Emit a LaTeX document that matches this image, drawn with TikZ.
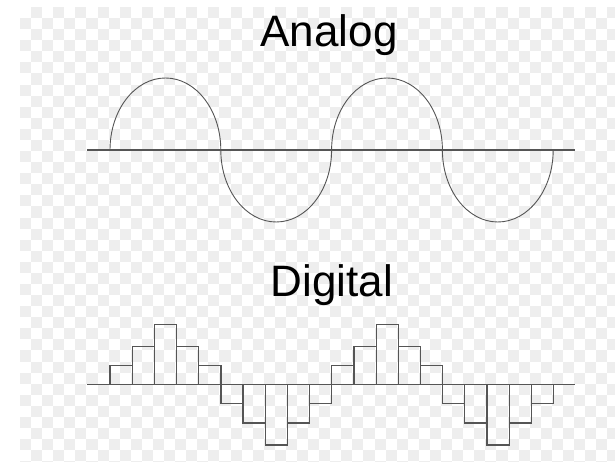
\documentclass[tikz,border=0pt]{standalone}
\usepackage{fontspec}
\setmainfont{Liberation Sans}
\usetikzlibrary{positioning}
\definecolor{linegray}{HTML}{555555}
\definecolor{checkgray}{HTML}{EEEEEE}

\begin{document}
\begin{tikzpicture}[x=1pt,y=1pt,
  axis/.style={draw=linegray, line width=1.3pt},
  wave/.style={draw=linegray, line width=0.9pt},
  bar/.style={draw=linegray, line width=1.2pt},
  title/.style={font=\fontsize{44}{50}\selectfont, anchor=base}]
  \useasboundingbox (0,0) rectangle (615,462);

  % background squares
  \begin{scope}
    \clip (20,0) rectangle (615,455);
    \foreach \i in {0,...,53}
      \foreach \j in {0,...,41}
        {\pgfmathparse{int(mod(\i+\j,2))}
         \ifnum\pgfmathresult=1
           \fill[checkgray] ({20+\i*11.08},{455-(\j+1)*11.08}) rectangle +(11.08,11.08);
         \fi}
  \end{scope}

  % analog
  \node[title] (analog) at (329,415.3) {Analog};
  \coordinate (aleft) at (87,312);
  \coordinate (aright) at (575,312);
  \coordinate (astart) at (110,312);
  \draw[axis] (aleft) -- (aright);
  \draw[wave] (astart)
    arc[start angle=180, end angle=0, x radius=55.4, y radius=72]
    arc[start angle=180, end angle=360, x radius=55.4, y radius=72]
    arc[start angle=180, end angle=0, x radius=55.4, y radius=72]
    arc[start angle=180, end angle=360, x radius=55.4, y radius=72];

  % digital
  \node[title] (digital) at (332,165.3) {Digital};
  \coordinate (dleft) at (87,77.3);
  \coordinate (dright) at (575,77.3);
  \foreach \h [count=\k from 0] in {19,38.4,60.4,38.4,19,-19,-38.4,-60.4,-38.4,-19,19,38.4,60.4,38.4,19,-19,-38.4,-60.4,-38.4,-19}
    \draw[bar] ({110+\k*22.18},77.3) rectangle +(22.18,\h);
  \draw[axis] (dleft) -- (dright);
\end{tikzpicture}
\end{document}
